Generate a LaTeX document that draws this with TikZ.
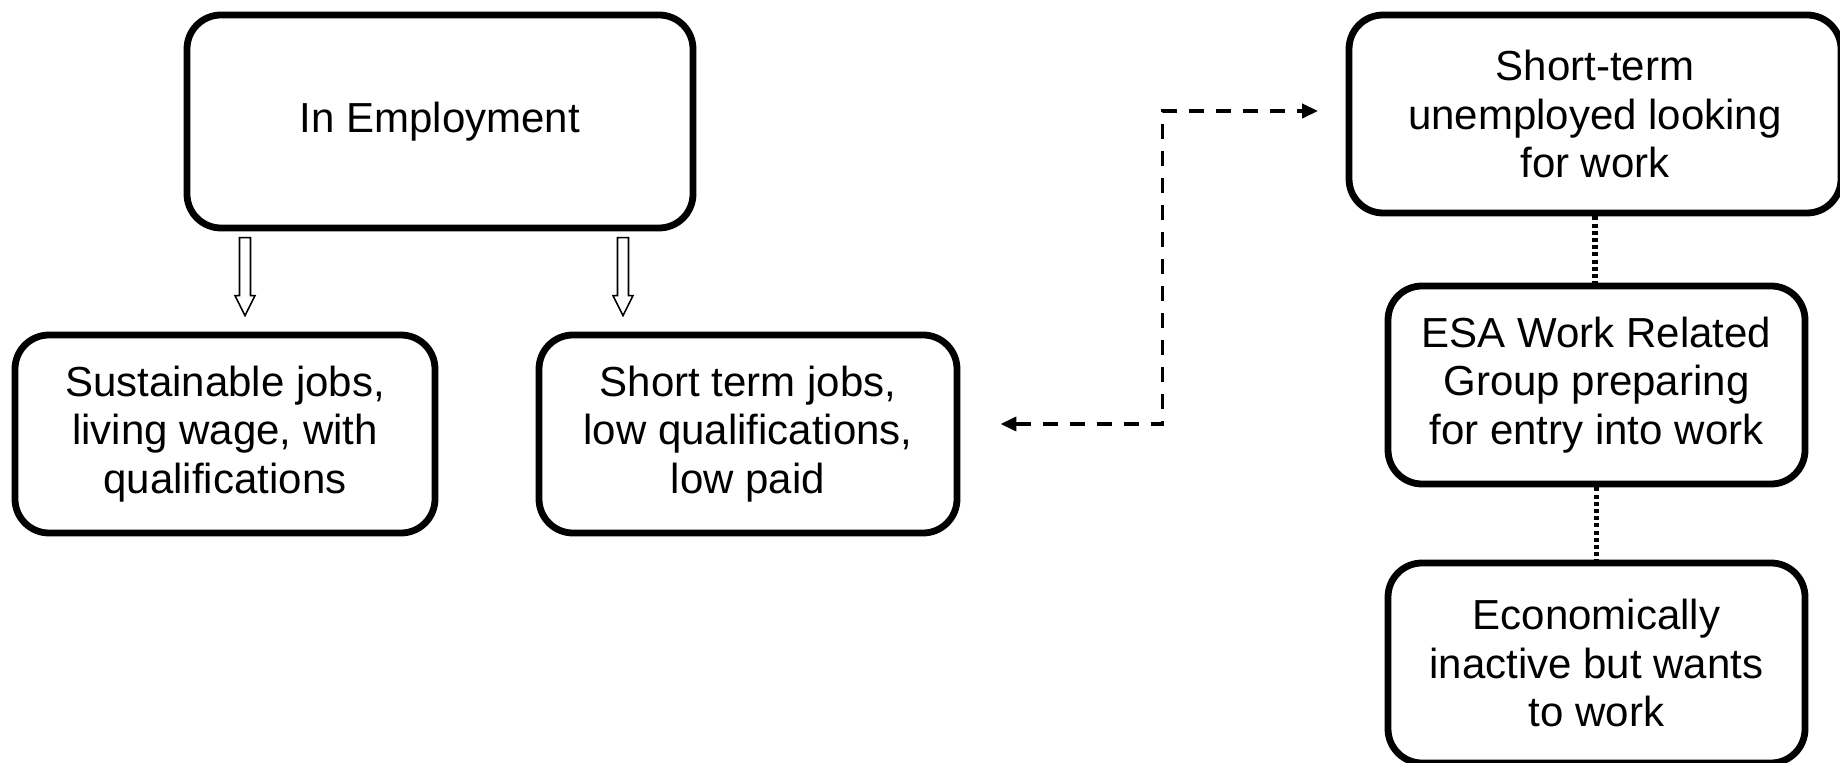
\documentclass[tikz,border=0pt]{standalone}
\usepackage{fontspec}
\setmainfont{Liberation Sans}
\usetikzlibrary{arrows.meta}

\begin{document}
\begin{tikzpicture}[
    x=1pt, y=1pt,
    box/.style={draw, line width=3.4pt, rounded corners=17pt, align=center,
        font=\fontsize{21}{24.4}\selectfont},
    hollow/.style={draw, line width=0.8pt, fill=white},
    dlink/.style={line width=1.8pt, dash pattern=on 7.5pt off 6pt,
        {Triangle[length=8pt,width=7pt]}-{Triangle[length=8pt,width=7pt]}},
    dotlink/.style={line width=2.8pt, dash pattern=on 2pt off 1.6pt},
]
\useasboundingbox (0,0) rectangle (920,-381.5);

% in work
\node[box, minimum width=253pt, minimum height=106.5pt] (E) at (220,-60.75) {In Employment};
\node[box, minimum width=210pt, minimum height=99pt] (S1) at (112.5,-217) {Sustainable jobs,\\living wage, with\\qualifications};
\node[box, minimum width=209pt, minimum height=99pt] (S2) at (374,-217) {Short term jobs,\\low qualifications,\\low paid};

% out of work
\node[box, minimum width=246pt, minimum height=99pt] (U) at (797.5,-57) {Short-term\\unemployed looking\\for work};
\node[box, minimum width=208.5pt, minimum height=99pt] (ESA) at (798.25,-192.5) {ESA Work Related\\Group preparing\\for entry into work};
\node[box, minimum width=208.5pt, minimum height=100pt] (EI) at (798.25,-331.5) {Economically\\inactive but wants\\to work};

% hollow arrows
\coordinate (t1) at ([xshift=10pt,yshift=8pt]S1.north);
\coordinate (t2) at ([xshift=-62.5pt,yshift=8pt]S2.north);
\foreach \t in {t1,t2}
  \draw[hollow] (\t) -- ++(-5,10) -- ++(2.25,0) -- ++(0,29) -- ++(5.5,0) -- ++(0,-29) -- ++(2.25,0) -- cycle;

% links
\draw[dlink] ([xshift=20pt,yshift=5pt]S2.east) -- ++(81,0) |- ([xshift=-13.75pt,yshift=1.5pt]U.west);
\draw[dotlink] (U.south) -- (U.south |- ESA.north);
\draw[dotlink] (ESA.south) -- (ESA.south |- EI.north);

\end{tikzpicture}
\end{document}
